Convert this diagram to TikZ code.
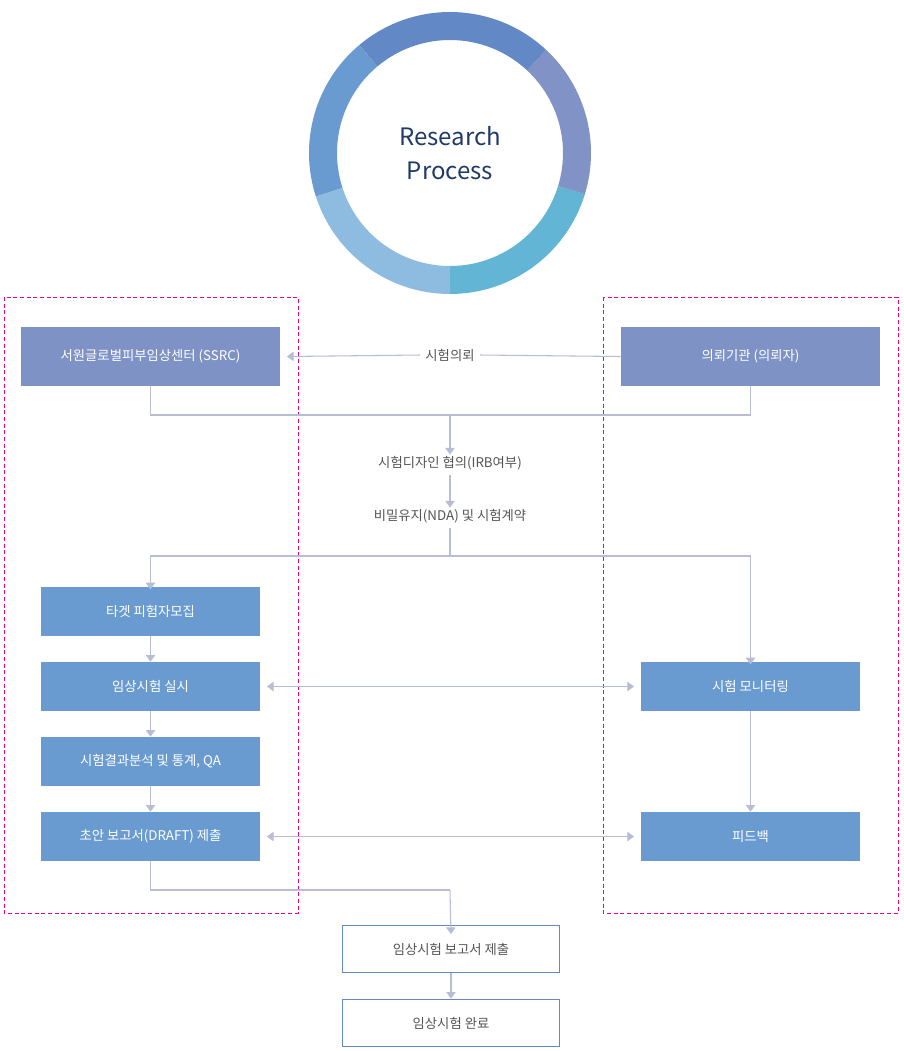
\documentclass[tikz,border=0pt]{standalone}
\usepackage{fontspec}
\setmainfont{Noto Sans CJK KR}
\usetikzlibrary{positioning}
\usetikzlibrary{arrows.meta}
\definecolor{ringA}{HTML}{62B5D4}
\definecolor{ringB}{HTML}{8092C6}
\definecolor{ringC}{HTML}{6289C5}
\definecolor{ringD}{HTML}{6A9BD0}
\definecolor{ringE}{HTML}{8DBCE0}
\definecolor{boxblue}{HTML}{6A9BD0}
\definecolor{boxpurple}{HTML}{7F92C6}
\definecolor{conn}{HTML}{B8BCD4}
\definecolor{txtgray}{HTML}{555555}
\definecolor{navy}{HTML}{1F3A68}
\tikzset{
	every node/.style = {font=\fontsize{10}{12}\selectfont},
	topbox/.style = {fill=boxpurple, text=white, minimum width=194.25pt, minimum height=44.25pt, inner sep=0pt},
	stepbox/.style = {fill=boxblue, text=white, minimum width=164.25pt, minimum height=36.75pt, inner sep=0pt},
	endbox/.style = {draw=ringC, line width=1.2pt, fill=white, text=txtgray, minimum width=162.75pt, minimum height=35.25pt, inner sep=0pt},
	label/.style = {text=txtgray, fill=white, inner sep=4pt},
	line/.style = {draw=conn, line width=0.8pt},
	arr/.style = {line, -{Triangle[length=5pt,width=7pt]}},
	darr/.style = {line, {Triangle[length=5pt,width=7pt]}-{Triangle[length=5pt,width=7pt]}},
	zone/.style = {draw=magenta, densely dashed, line width=0.6pt}
}
\begin{document}
\begin{tikzpicture}[x=0.75pt, y=-0.75pt]
		\useasboundingbox (0,0) rectangle (904,1051);
		% ring
		\foreach \a/\b/\c in {90/17/ringA, 17/-47/ringB, -47/-130/ringC, -130/-198/ringD, 162/90/ringE}
			\fill[\c] (450,153) ++(\a:141) arc[start angle=\a, end angle=\b, radius=141]
				-- ++(\b:-28) arc[start angle=\b, end angle=\a, radius=113] -- cycle;
		\node[text=navy, align=center, font=\fontsize{18}{25}\selectfont] (title) at (450,153) {Research\\Process};
		
		% zones
		\draw[zone] (4,297) rectangle (298,913);
		\draw[zone] (603,297) rectangle (898,913);
		
		% boxes
		\node[topbox] (ssrc) at (150.5,356.5) {서원글로벌피부임상센터 (SSRC)};
		\node[topbox] (client) at (750.5,356.5) {의뢰기관 (의뢰자)};
		\node[stepbox] (recruit) at (150.5,611.5) {타겟 피험자모집};
		\node[stepbox] (trial) at (150.5,686.5) {임상시험 실시};
		\node[stepbox] (analysis) at (150.5,761.5) {시험결과분석 및 통계, QA};
		\node[stepbox] (draft) at (150.5,836.5) {초안 보고서(DRAFT) 제출};
		\node[stepbox] (monitor) at (750.5,686.5) {시험 모니터링};
		\node[stepbox] (feedback) at (750.5,836.5) {피드백};
		\node[endbox] (report) at (451,949) {임상시험 보고서 제출};
		\node[endbox] (done) at (451,1023) {임상시험 완료};
		
		% texts
		\node[label] (request) at (450,355) {시험의뢰};
		\node[label] (design) at (450,463) {시험디자인 협의(IRB여부)};
		\node[label] (nda) at (450,516) {비밀유지(NDA) 및 시험계약};
		\coordinate (join) at (450,415);
		\coordinate (split) at (450,556);
		\coordinate (merge) at (450,890);
		
		% connectors
		\draw[line] (client.west) -- (request.east);
		\draw[arr] (request.west) -- ([xshift=5]ssrc.east);
		\draw[line] (ssrc.south) |- (join) -| (client.south);
		\draw[arr] (join) -- ([yshift=-3]design.north);
		\draw[arr] (design.south) -- ([yshift=-3]nda.north);
		\draw[line] (nda.south) -- (split);
		\draw[arr] (split) -| ([yshift=-2]recruit.north);
		\draw[arr] (split) -| ([yshift=-2]monitor.north);
		\draw[arr] (recruit) -- (trial);
		\draw[arr] (trial) -- (analysis);
		\draw[arr] (analysis) -- (draft);
		\draw[arr] (monitor) -- (feedback);
		\draw[darr] ([xshift=5]trial.east) -- ([xshift=-5]monitor.west);
		\draw[darr] ([xshift=5]draft.east) -- ([xshift=-5]feedback.west);
		\draw[line] (draft.south) |- (merge);
		\draw[arr] (merge) -- ([yshift=-7]report.north);
		\draw[arr] (report) -- (done);
	\end{tikzpicture}
\end{document}
